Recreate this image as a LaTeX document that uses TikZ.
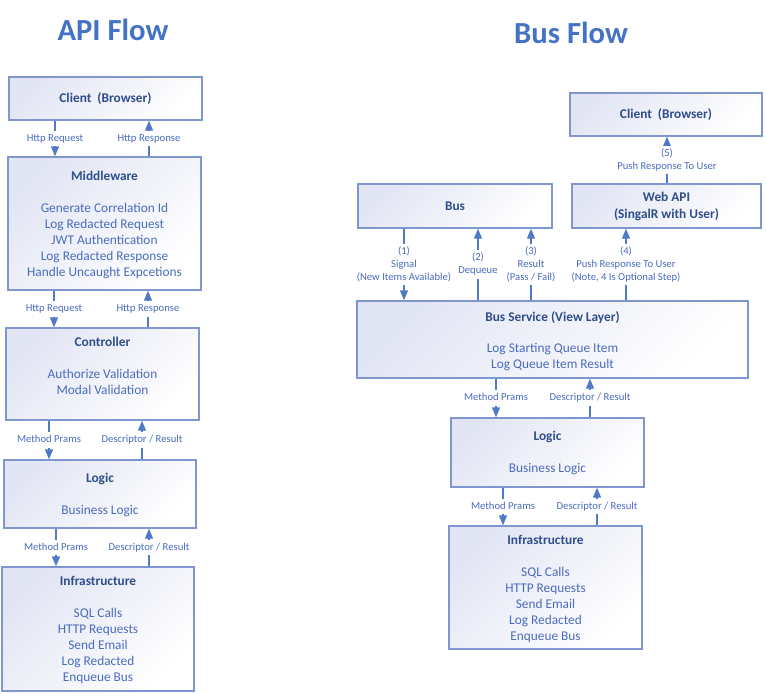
\documentclass[tikz,border=0pt]{standalone}
\usepackage{fontspec}
\setmainfont{Carlito}
\usetikzlibrary{arrows.meta,fit}
\definecolor{boxborder}{HTML}{7F96CE}
\definecolor{boxfill}{HTML}{E2E5F4}
\definecolor{titlec}{HTML}{2F4E8C}
\definecolor{bodyc}{HTML}{4A6CBE}
\definecolor{arrowc}{HTML}{5079C8}
\definecolor{headc}{HTML}{4472C4}
\begin{document}
\begin{tikzpicture}[x=0.75pt,y=-0.75pt,
  box/.style={draw=boxborder, line width=1pt, top color=boxfill, bottom color=white, shading angle=45, inner sep=0pt},
  ttl/.style={font=\fontsize{10}{12.75}\selectfont\bfseries, text=titlec, align=center, inner sep=0pt},
  body/.style={font=\fontsize{10}{12}\selectfont, text=bodyc, align=center, inner sep=0pt},
  lbl/.style={font=\fontsize{8}{9.75}\selectfont, text=bodyc, align=center, fill=white, inner sep=1pt},
  head/.style={font=\fontsize{23}{27}\selectfont\bfseries, text=headc, inner sep=0pt},
  arr/.style={draw=arrowc, line width=1pt, -{Triangle[length=7.5pt,width=6pt]}}
]
\useasboundingbox (0,0) rectangle (766,693);

% ---------- titles ----------
\node[head] (hA) at (113,30) {API Flow};
\node[head] (hB) at (571,33) {Bus Flow};

% ---------- API flow boxes ----------
\node[box, fit={(9,77) (202,120)}] (cA) {};
\node[box, fit={(8,157) (201,290)}] (mw) {};
\node[box, fit={(6,328) (199,420)}] (ctrl) {};
\node[box, fit={(4,460) (196,528)}] (lgA) {};
\node[box, fit={(2,567) (194,691)}] (inA) {};

\node[ttl] (cAt) at (105.5,99) {Client~~(Browser)\strut};
\node[ttl] (mwt) at (104.5,177) {Middleware\strut};
\node[body] (mwb) at (104.5,241) {Generate Correlation Id\strut\\Log Redacted Request\strut\\JWT Authentication\strut\\Log Redacted Response\strut\\Handle Uncaught Expcetions\strut};
\node[ttl] (ctrlt) at (102.5,343) {Controller\strut};
\node[body] (ctrlb) at (102.5,383) {Authorize Validation\strut\\Modal Validation\strut};
\node[ttl] (lgAt) at (100,479) {Logic\strut};
\node[body] (lgAb) at (100,511) {Business Logic\strut};
\node[ttl] (inAt) at (98,582) {Infrastructure\strut};
\node[body] (inAb) at (98,646) {SQL Calls\strut\\HTTP Requests\strut\\Send Email\strut\\Log Redacted\strut\\Enqueue Bus\strut};

% ---------- API flow arrows ----------
\draw[arr] (cA.south -| 55,0) -- node[lbl] (l1) {Http Request\strut} (mw.north -| 55,0);
\draw[arr] (mw.north -| 149,0) -- node[lbl] (l2) {Http Response\strut} (cA.south -| 149,0);
\draw[arr] (mw.south -| 54,0) -- node[lbl] (l3) {Http Request\strut} (ctrl.north -| 54,0);
\draw[arr] (ctrl.north -| 148,0) -- node[lbl] (l4) {Http Response\strut} (mw.south -| 148,0);
\draw[arr] (ctrl.south -| 49,0) -- node[lbl] (l5) {Method Prams\strut} (lgA.north -| 49,0);
\draw[arr] (lgA.north -| 142,0) -- node[lbl] (l6) {Descriptor / Result\strut} (ctrl.south -| 142,0);
\draw[arr] (lgA.south -| 56,0) -- node[lbl] (l7) {Method Prams\strut} (inA.north -| 56,0);
\draw[arr] (inA.north -| 149,0) -- node[lbl] (l8) {Descriptor / Result\strut} (lgA.south -| 149,0);

% ---------- Bus flow boxes ----------
\node[box, fit={(570,93) (762,136)}] (cB) {};
\node[box, fit={(572,184) (761,228)}] (web) {};
\node[box, fit={(358,184) (552,228)}] (bus) {};
\node[box, fit={(357,301) (748,378)}] (svc) {};
\node[box, fit={(451,418) (644,487)}] (lgB) {};
\node[box, fit={(449,526) (642,649)}] (inB) {};

\node[ttl] (cBt) at (666,115) {Client~~(Browser)\strut};
\node[ttl] (webt) at (666.5,207) {Web API\strut\\(SingalR with User)\strut};
\node[ttl] (bust) at (455,207) {Bus\strut};
\node[ttl] (svct) at (552.5,318) {Bus Service (View Layer)\strut};
\node[body] (svcb) at (552.5,357) {Log Starting Queue Item\strut\\Log Queue Item Result\strut};
\node[ttl] (lgBt) at (547.5,437) {Logic\strut};
\node[body] (lgBb) at (547.5,469) {Business Logic\strut};
\node[ttl] (inBt) at (545.5,541) {Infrastructure\strut};
\node[body] (inBb) at (545.5,605) {SQL Calls\strut\\HTTP Requests\strut\\Send Email\strut\\Log Redacted\strut\\Enqueue Bus\strut};

% ---------- Bus flow arrows ----------
\draw[arr] (bus.south -| 404,0) -- node[lbl] (b1) {(1)\strut\\Signal\strut\\(New Items Available)\strut} (svc.north -| 404,0);
\draw[arr] (svc.north -| 478,0) -- node[lbl] (b2) {(2)\strut\\Dequeue\strut} (bus.south -| 478,0);
\draw[arr] (svc.north -| 531,0) -- node[lbl] (b3) {(3)\strut\\Result\strut\\(Pass / Fail)\strut} (bus.south -| 531,0);
\draw[arr] (svc.north -| 626,0) -- node[lbl] (b4) {(4)\strut\\Push Response To User\strut\\(Note, 4 Is Optional Step)\strut} (web.south -| 626,0);
\draw[arr] (web.north -| 667,0) -- node[lbl] (b5) {(5)\strut\\Push Response To User\strut} (cB.south -| 667,0);
\draw[arr] (svc.south -| 496,0) -- node[lbl] (b6) {Method Prams\strut} (lgB.north -| 496,0);
\draw[arr] (lgB.north -| 590,0) -- node[lbl] (b7) {Descriptor / Result\strut} (svc.south -| 590,0);
\draw[arr] (lgB.south -| 503,0) -- node[lbl] (b8) {Method Prams\strut} (inB.north -| 503,0);
\draw[arr] (inB.north -| 597,0) -- node[lbl] (b9) {Descriptor / Result\strut} (lgB.south -| 597,0);
\end{tikzpicture}
\end{document}
